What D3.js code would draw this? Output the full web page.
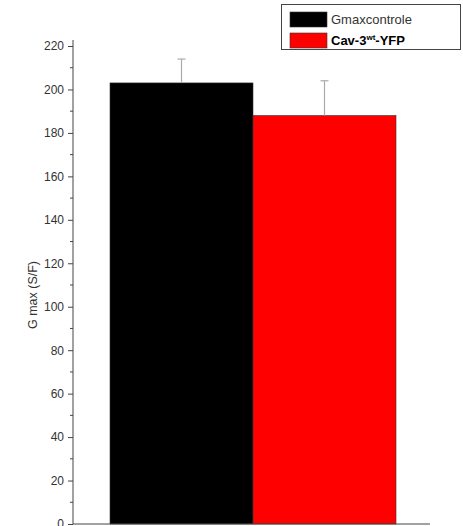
<!DOCTYPE html>
<html><head><meta charset="utf-8">
<script src="https://cdn.jsdelivr.net/npm/d3@7"></script>
<style>body{margin:0;background:#fff}svg{display:block}text{font-family:"Liberation Sans",Arial,sans-serif}</style>
</head><body>
<script>
const categories = ["Gmaxcontrole", "Cav-3wt-YFP"];
const values = [203, 188];
const errors = [11, 16];
const colors = ["#000000", "#ff0000"];
const yTicks = [0, 20, 40, 60, 80, 100, 120, 140, 160, 180, 200, 220];

const W = 463, H = 526;
const svg = d3.select("body").append("svg").attr("width", W).attr("height", H);

const x0 = 73, x1 = 430, yTop = 46, yBot = 524;
const y = d3.scaleLinear().domain([0, 220]).range([yBot, yTop]);
const x = d3.scaleBand().domain(categories).range([110, 396]).padding(0);

// bars
svg.selectAll("rect.bar").data(categories).enter().append("rect")
  .attr("x", d => x(d)).attr("width", x.bandwidth())
  .attr("y", (d, i) => y(values[i])).attr("height", (d, i) => y(0) - y(values[i]))
  .attr("fill", (d, i) => colors[i]).attr("stroke", "#333").attr("stroke-width", 0.6);

// error bars
const eg = svg.append("g").attr("stroke", "#aaa").attr("stroke-width", 1.2);
categories.forEach((c, i) => {
  const cx = x(c) + x.bandwidth() / 2;
  eg.append("line").attr("x1", cx).attr("x2", cx).attr("y1", y(values[i])).attr("y2", y(values[i] + errors[i]));
  eg.append("line").attr("x1", cx - 4).attr("x2", cx + 4).attr("y1", y(values[i] + errors[i])).attr("y2", y(values[i] + errors[i]));
});

// y axis
const ya = svg.append("g").attr("transform", `translate(${x0},0)`)
  .call(d3.axisLeft(y).tickValues(yTicks).tickSize(5).tickPadding(4).tickSizeOuter(0));
ya.select(".domain").attr("stroke", "#444").attr("d", `M0,${yBot}V${40}`);
ya.selectAll(".tick line").attr("stroke", "#444");
ya.selectAll(".tick text").attr("fill", "#333").style("font-size", "12px");
// minor ticks
const minor = d3.range(10, 220, 20);
svg.append("g").selectAll("line").data(minor).enter().append("line")
  .attr("x1", x0 - 3).attr("x2", x0).attr("y1", d => y(d)).attr("y2", d => y(d)).attr("stroke", "#444");

// x axis line
svg.append("line").attr("x1", x0).attr("x2", x1).attr("y1", yBot).attr("y2", yBot).attr("stroke", "#444").attr("stroke-width", 1);

// y label
svg.append("text").attr("transform", `translate(37,295) rotate(-90)`)
  .attr("text-anchor", "middle").attr("fill", "#333").style("font-size", "12.5px").text("G max (S/F)");

// legend
const lg = svg.append("g");
lg.append("rect").attr("x", 281.5).attr("y", 4.5).attr("width", 179).attr("height", 45)
  .attr("fill", "#fff").attr("stroke", "#444").attr("stroke-width", 1);
[0, 1].forEach(i => {
  const ry = 12 + i * 21;
  lg.append("rect").attr("x", 290).attr("y", ry).attr("width", 37).attr("height", 15)
    .attr("fill", colors[i]).attr("stroke", "#333").attr("stroke-width", 0.6);
});
lg.append("text").attr("x", 331).attr("y", 24).attr("fill", "#333").style("font-size", "13px").text(categories[0]);
const t2 = lg.append("text").attr("x", 331).attr("y", 45).attr("fill", "#000").style("font-size", "13px").style("font-weight", "bold");
t2.append("tspan").text("Cav-3");
t2.append("tspan").attr("dy", -5).style("font-size", "8px").text("wt");
t2.append("tspan").attr("dy", 5).text("-YFP");
</script>
</body></html>
